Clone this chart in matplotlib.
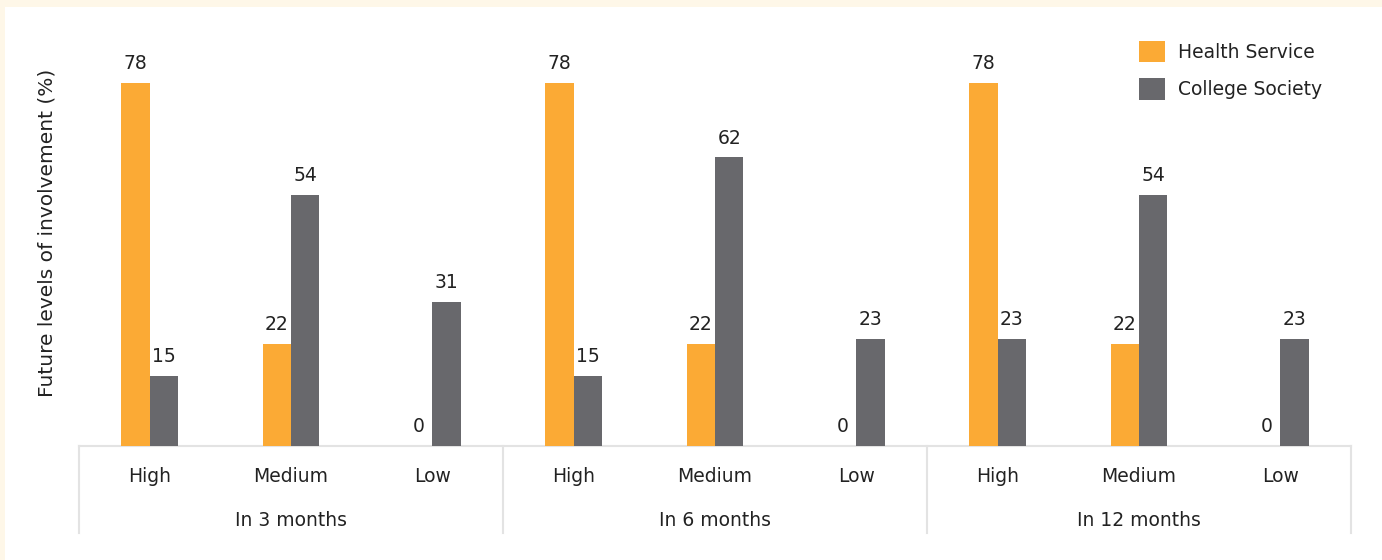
import matplotlib
matplotlib.use("Agg")
import matplotlib.pyplot as plt
import numpy as np
from matplotlib.patches import Rectangle, Patch

plt.rcParams['font.family'] = ['DejaVu Sans']

groups = ["In 3 months", "In 6 months", "In 12 months"]
levels = ["High", "Medium", "Low"]
health_service = [78, 22, 0, 78, 22, 0, 78, 22, 0]
college_society = [15, 54, 31, 15, 62, 23, 23, 54, 23]
series_names = ["Health Service", "College Society"]
colors = ["#FBAA35", "#68686C"]

W, H = 1382, 560
fig = plt.figure(figsize=(W / 100, H / 100), dpi=100)
fig.patch.set_facecolor("white")

# cream frame strips (top and left)
cream = "#FEF7E8"
fig.add_artist(Rectangle((0, 1 - 7 / H), 1, 7 / H, transform=fig.transFigure,
                         facecolor=cream, edgecolor="none", zorder=0))
fig.add_artist(Rectangle((0, 0), 5 / W, 1, transform=fig.transFigure,
                         facecolor=cream, edgecolor="none", zorder=0))

left, right, bottom, top = 79, 1351, 446, 20
ax = fig.add_axes([left / W, (H - bottom) / H, (right - left) / W, (bottom - top) / H])
ax.set_facecolor("none")

n = len(health_service)
x = np.arange(n) + 0.5
bw = 0.2
ax.bar(x - bw / 2, health_service, bw, color=colors[0], zorder=2)
ax.bar(x + bw / 2, college_society, bw, color=colors[1], zorder=2)

ax.set_xlim(0, n)
ax.set_ylim(0, (bottom - top) / 4.654)

txt_col = "#222222"
fs = 13.5
for xi, v in zip(x - bw / 2, health_service):
    ax.annotate(f"{v}", (xi, v), xytext=(0, 7), textcoords="offset points",
                ha="center", va="bottom", fontsize=fs, color=txt_col)
for xi, v in zip(x + bw / 2, college_society):
    ax.annotate(f"{v}", (xi, v), xytext=(0, 7), textcoords="offset points",
                ha="center", va="bottom", fontsize=fs, color=txt_col)

for s in ax.spines.values():
    s.set_visible(False)
ax.set_xticks([])
ax.set_yticks([])

ax.set_ylabel("Future levels of involvement (%)", fontsize=14.5, color=txt_col)
ax.yaxis.set_label_coords((47 - left) / (right - left), 0.5)
ax.yaxis.label.set_va("center")

trans = ax.get_xaxis_transform()
line_col = "#E3E3E3"
# baseline
ax.plot([0, n], [0, 0], color=line_col, lw=1.5, transform=trans, clip_on=False, zorder=1)
# separators
bot_frac = -(533 - bottom) / (bottom - top)
for k in range(len(groups) + 1):
    ax.plot([3 * k, 3 * k], [0, bot_frac], color=line_col, lw=1.5,
            transform=trans, clip_on=False)

tick_y = -(476 - bottom) / (bottom - top)
grp_y = -(520 - bottom) / (bottom - top)
for i in range(n):
    ax.text(x[i], tick_y, levels[i % 3], transform=trans, ha="center", va="center",
            fontsize=fs, color=txt_col)
for g, name in enumerate(groups):
    ax.text(3 * g + 1.5, grp_y, name, transform=trans, ha="center", va="center",
            fontsize=fs, color=txt_col)

handles = [Patch(facecolor=c, edgecolor="none") for c in colors]
leg = fig.legend(handles, series_names, loc="upper left",
                 bbox_to_anchor=(1122 / W, 1 - 24 / H), frameon=False,
                 fontsize=fs, handlelength=1.39, handleheight=1.39,
                 handletextpad=0.7, labelspacing=0.85)
for t in leg.get_texts():
    t.set_color(txt_col)

fig.savefig("out.png", dpi=100, facecolor=fig.get_facecolor())
